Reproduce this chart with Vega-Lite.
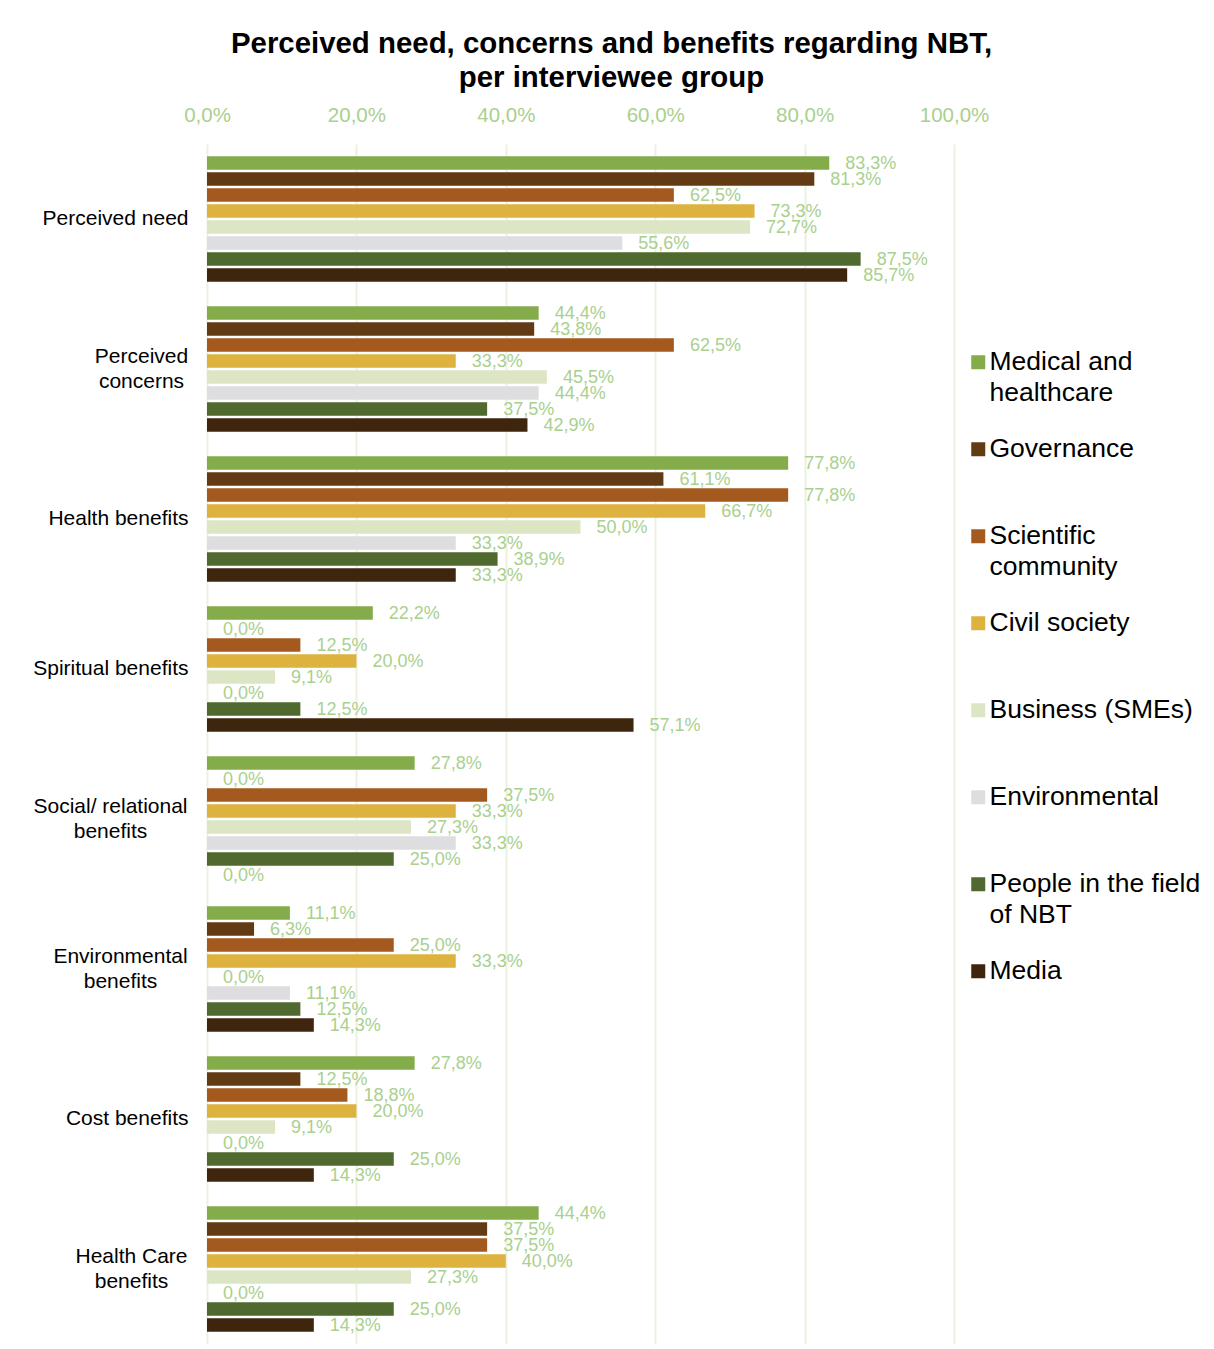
{
  "$schema": "https://vega.github.io/schema/vega-lite/v6.json",
  "autosize": {"type": "none"},
  "padding": {"left": 207, "top": 144, "right": 260, "bottom": 5},
  "width": 747,
  "height": 1200,
  "background": "white",
  "title": {
    "text": ["Perceived need, concerns and benefits regarding NBT,", "per interviewee group"],
    "anchor": "middle",
    "frame": "group",
    "dx": 31,
    "offset": 12,
    "font": "Liberation Sans",
    "fontSize": 29.4,
    "fontWeight": "bold",
    "lineHeight": 34,
    "color": "#000000"
  },
  "config": {
    "locale": {"number": {"decimal": ",", "thousands": ".", "grouping": [3], "currency": ["", " €"]}},
    "view": {"stroke": null},
    "font": "Liberation Sans"
  },
  "data": {
    "values": [
      {"category": "Perceived need", "group": "Medical and healthcare", "value": 0.833},
      {"category": "Perceived need", "group": "Governance", "value": 0.813},
      {"category": "Perceived need", "group": "Scientific community", "value": 0.625},
      {"category": "Perceived need", "group": "Civil society", "value": 0.733},
      {"category": "Perceived need", "group": "Business (SMEs)", "value": 0.727},
      {"category": "Perceived need", "group": "Environmental", "value": 0.556},
      {"category": "Perceived need", "group": "People in the field of NBT", "value": 0.875},
      {"category": "Perceived need", "group": "Media", "value": 0.857},
      {"category": "Perceived concerns", "group": "Medical and healthcare", "value": 0.444},
      {"category": "Perceived concerns", "group": "Governance", "value": 0.438},
      {"category": "Perceived concerns", "group": "Scientific community", "value": 0.625},
      {"category": "Perceived concerns", "group": "Civil society", "value": 0.333},
      {"category": "Perceived concerns", "group": "Business (SMEs)", "value": 0.455},
      {"category": "Perceived concerns", "group": "Environmental", "value": 0.444},
      {"category": "Perceived concerns", "group": "People in the field of NBT", "value": 0.375},
      {"category": "Perceived concerns", "group": "Media", "value": 0.429},
      {"category": "Health benefits", "group": "Medical and healthcare", "value": 0.778},
      {"category": "Health benefits", "group": "Governance", "value": 0.611},
      {"category": "Health benefits", "group": "Scientific community", "value": 0.778},
      {"category": "Health benefits", "group": "Civil society", "value": 0.667},
      {"category": "Health benefits", "group": "Business (SMEs)", "value": 0.5},
      {"category": "Health benefits", "group": "Environmental", "value": 0.333},
      {"category": "Health benefits", "group": "People in the field of NBT", "value": 0.389},
      {"category": "Health benefits", "group": "Media", "value": 0.333},
      {"category": "Spiritual benefits", "group": "Medical and healthcare", "value": 0.222},
      {"category": "Spiritual benefits", "group": "Governance", "value": 0},
      {"category": "Spiritual benefits", "group": "Scientific community", "value": 0.125},
      {"category": "Spiritual benefits", "group": "Civil society", "value": 0.2},
      {"category": "Spiritual benefits", "group": "Business (SMEs)", "value": 0.091},
      {"category": "Spiritual benefits", "group": "Environmental", "value": 0},
      {"category": "Spiritual benefits", "group": "People in the field of NBT", "value": 0.125},
      {"category": "Spiritual benefits", "group": "Media", "value": 0.571},
      {"category": "Social/ relational benefits", "group": "Medical and healthcare", "value": 0.278},
      {"category": "Social/ relational benefits", "group": "Governance", "value": 0},
      {"category": "Social/ relational benefits", "group": "Scientific community", "value": 0.375},
      {"category": "Social/ relational benefits", "group": "Civil society", "value": 0.333},
      {"category": "Social/ relational benefits", "group": "Business (SMEs)", "value": 0.273},
      {"category": "Social/ relational benefits", "group": "Environmental", "value": 0.333},
      {"category": "Social/ relational benefits", "group": "People in the field of NBT", "value": 0.25},
      {"category": "Social/ relational benefits", "group": "Media", "value": 0},
      {"category": "Environmental benefits", "group": "Medical and healthcare", "value": 0.111},
      {"category": "Environmental benefits", "group": "Governance", "value": 0.063},
      {"category": "Environmental benefits", "group": "Scientific community", "value": 0.25},
      {"category": "Environmental benefits", "group": "Civil society", "value": 0.333},
      {"category": "Environmental benefits", "group": "Business (SMEs)", "value": 0},
      {"category": "Environmental benefits", "group": "Environmental", "value": 0.111},
      {"category": "Environmental benefits", "group": "People in the field of NBT", "value": 0.125},
      {"category": "Environmental benefits", "group": "Media", "value": 0.143},
      {"category": "Cost benefits", "group": "Medical and healthcare", "value": 0.278},
      {"category": "Cost benefits", "group": "Governance", "value": 0.125},
      {"category": "Cost benefits", "group": "Scientific community", "value": 0.188},
      {"category": "Cost benefits", "group": "Civil society", "value": 0.2},
      {"category": "Cost benefits", "group": "Business (SMEs)", "value": 0.091},
      {"category": "Cost benefits", "group": "Environmental", "value": 0},
      {"category": "Cost benefits", "group": "People in the field of NBT", "value": 0.25},
      {"category": "Cost benefits", "group": "Media", "value": 0.143},
      {"category": "Health Care benefits", "group": "Medical and healthcare", "value": 0.444},
      {"category": "Health Care benefits", "group": "Governance", "value": 0.375},
      {"category": "Health Care benefits", "group": "Scientific community", "value": 0.375},
      {"category": "Health Care benefits", "group": "Civil society", "value": 0.4},
      {"category": "Health Care benefits", "group": "Business (SMEs)", "value": 0.273},
      {"category": "Health Care benefits", "group": "Environmental", "value": 0},
      {"category": "Health Care benefits", "group": "People in the field of NBT", "value": 0.25},
      {"category": "Health Care benefits", "group": "Media", "value": 0.143}
    ]
  },
  "encoding": {
    "y": {
      "field": "category",
      "type": "nominal",
      "sort": ["Perceived need", "Perceived concerns", "Health benefits", "Spiritual benefits", "Social/ relational benefits", "Environmental benefits", "Cost benefits", "Health Care benefits"],
      "scale": {"paddingInner": 0.1467, "paddingOuter": 0.0733},
      "axis": {
        "title": null,
        "domain": false,
        "ticks": false,
        "grid": false,
        "labelFont": "Liberation Sans",
        "labelFontSize": 21,
        "labelColor": "#000000",
        "labelPadding": {
          "condition": [
            {"test": "datum.value == 'Perceived concerns'", "value": 66},
            {"test": "datum.value == 'Social/ relational benefits'", "value": 97},
            {"test": "datum.value == 'Environmental benefits'", "value": 87},
            {"test": "datum.value == 'Health Care benefits'", "value": 76}
          ],
          "value": 19
        },
        "labelAlign": {
          "condition": {"test": "indexof(['Perceived concerns', 'Social/ relational benefits', 'Environmental benefits', 'Health Care benefits'], datum.value) >= 0", "value": "center"},
          "value": "right"
        },
        "labelOffset": {
          "condition": {"test": "indexof(['Perceived concerns', 'Social/ relational benefits', 'Environmental benefits', 'Health Care benefits'], datum.value) >= 0", "value": -12},
          "value": 0
        },
        "labelBaseline": "middle",
        "labelLineHeight": 25,
        "labelLimit": 300,
        "labelExpr": "datum.value == 'Perceived concerns' ? ['Perceived', 'concerns'] : datum.value == 'Social/ relational benefits' ? ['Social/ relational', 'benefits'] : datum.value == 'Environmental benefits' ? ['Environmental', 'benefits'] : datum.value == 'Health Care benefits' ? ['Health Care', 'benefits'] : datum.value"
      }
    },
    "yOffset": {
      "field": "group",
      "type": "nominal",
      "sort": ["Medical and healthcare", "Governance", "Scientific community", "Civil society", "Business (SMEs)", "Environmental", "People in the field of NBT", "Media"],
      "scale": {"paddingInner": 0.16, "paddingOuter": 0.08}
    },
    "x": {
      "field": "value",
      "type": "quantitative",
      "scale": {"domain": [0, 1], "nice": false, "zero": true},
      "axis": {
        "orient": "top",
        "title": null,
        "format": ".1%",
        "values": [0, 0.2, 0.4, 0.6, 0.8, 1],
        "domain": false,
        "ticks": false,
        "grid": true,
        "gridColor": "#EBF1DE",
        "gridWidth": 2,
        "labelFont": "Liberation Sans",
        "labelFontSize": 20.5,
        "labelColor": "#A9D08E",
        "labelPadding": 19,
        "labelFlush": false
      }
    }
  },
  "layer": [
    {
      "mark": {"type": "bar"},
      "encoding": {
        "color": {
          "field": "group",
          "type": "nominal",
          "sort": ["Medical and healthcare", "Governance", "Scientific community", "Civil society", "Business (SMEs)", "Environmental", "People in the field of NBT", "Media"],
          "scale": {
            "domain": ["Medical and healthcare", "Governance", "Scientific community", "Civil society", "Business (SMEs)", "Environmental", "People in the field of NBT", "Media"],
            "range": ["#84AC4B", "#623A14", "#A45A1E", "#DDB23F", "#DCE6C4", "#DEDEE0", "#4F692E", "#3E250E"]
          },
          "legend": {
            "orient": "none",
            "legendX": 758,
            "legendY": 205,
            "title": null,
            "symbolType": "square",
            "symbolSize": 196,
            "symbolStrokeWidth": 0,
            "labelFont": "Liberation Sans",
            "labelFontSize": 26.5,
            "labelColor": "#000000",
            "labelOffset": -2,
            "labelLimit": 400,
            "rowPadding": 29,
            "labelBaseline": "middle",
            "labelExpr": "datum.label == 'Medical and healthcare' ? ['Medical and', 'healthcare'] : datum.label == 'Scientific community' ? ['Scientific', 'community'] : datum.label == 'People in the field of NBT' ? ['People in the field', 'of NBT'] : [datum.label, '']",
            "encode": {"labels": {"update": {"lineHeight": {"value": 31}}}}
          }
        }
      }
    },
    {
      "mark": {"type": "text", "align": "left", "baseline": "middle", "dx": 16, "dy": 1, "fontSize": 18, "font": "Liberation Sans", "color": "#A9D08E"},
      "encoding": {
        "text": {"field": "value", "type": "quantitative", "format": ".1%"}
      }
    }
  ]
}
